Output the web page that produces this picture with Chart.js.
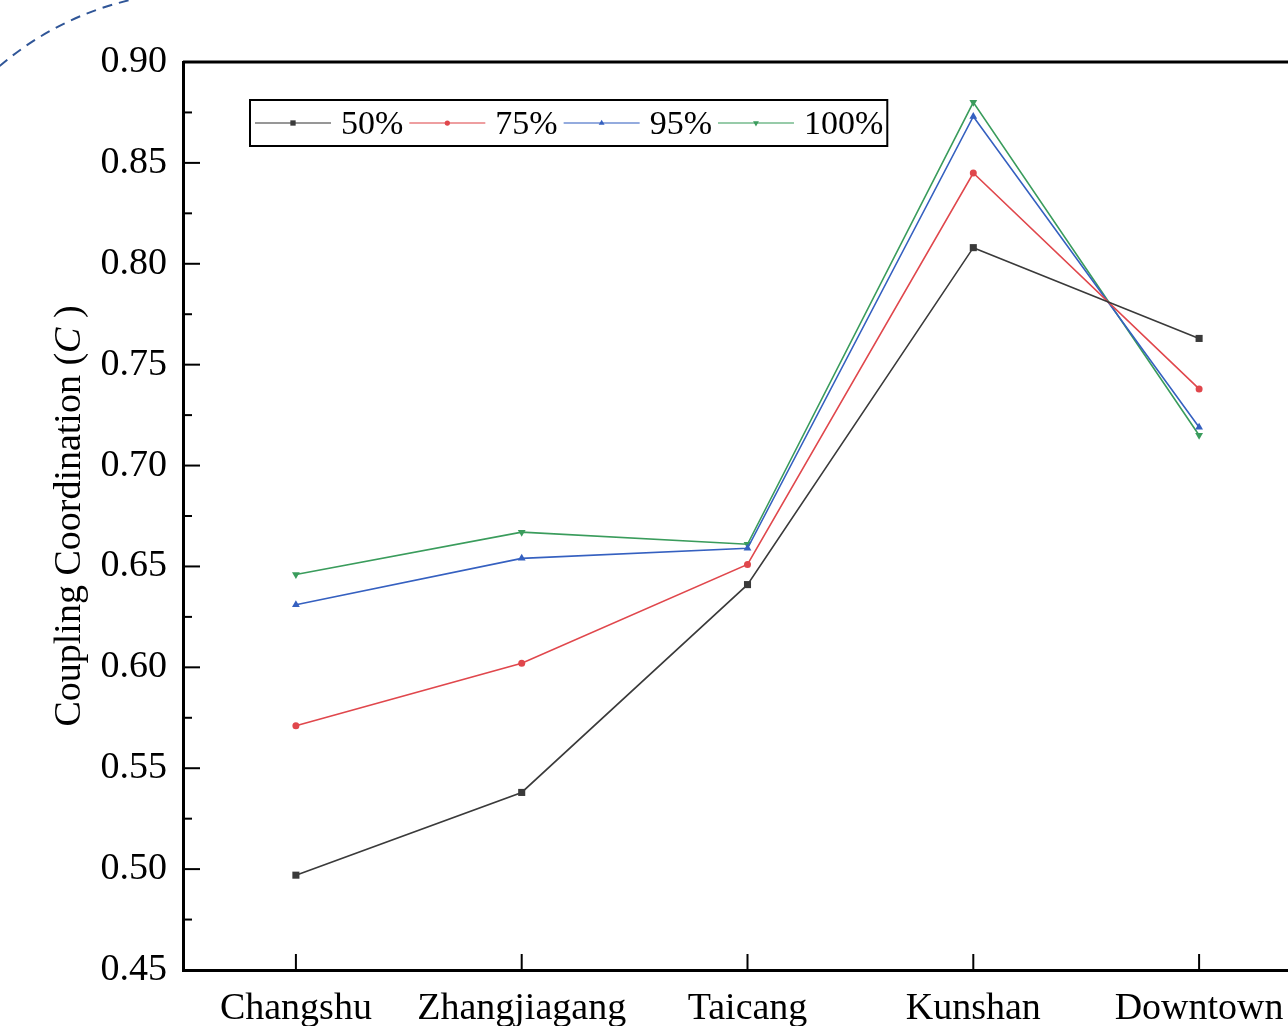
<!DOCTYPE html>
<html>
<head>
<meta charset="utf-8">
<script src="https://cdn.jsdelivr.net/npm/chart.js@4/dist/chart.umd.min.js"></script>
<style>
  html, body { margin: 0; padding: 0; background: #fff; overflow: hidden; }
  #wrap { width: 1320px; height: 1026px; }
</style>
</head>
<body>
<div id="wrap"><canvas id="cc" width="1320" height="1026"></canvas></div>
<script>
// categories and series
const cities = ['Changshu', 'Zhangjiagang', 'Taicang', 'Kunshan', 'Downtown'];
const seriesNames = ['50%', '75%', '95%', '100%'];
const c50  = [0.497, 0.538, 0.641, 0.808, 0.763];
const c75  = [0.571, 0.602, 0.651, 0.845, 0.738];
const c95  = [0.631, 0.654, 0.659, 0.873, 0.719];
const c100 = [0.646, 0.667, 0.661, 0.880, 0.715];
const yMin = 0.45, yMax = 0.90, yStep = 0.05;

const colors = ['#3a3a3a', '#e0474c', '#3560c0', '#3a9c5c'];
const markers = [
    { style: 'rect', radius: 5, rotation: 0 },
    { style: 'circle', radius: 3.5, rotation: 0 },
    { style: 'triangle', radius: 4.5, rotation: 0 },
    { style: 'triangle', radius: 4.5, rotation: 180 }
];
const FONT = '"Liberation Serif", "Times New Roman", serif';

const allSeries = [c50, c75, c95, c100];
const datasets = allSeries.map((vals, i) => ({
    label: seriesNames[i],
    data: vals,
    borderColor: colors[i],
    backgroundColor: colors[i],
    borderWidth: 1.6,
    pointStyle: markers[i].style,
    pointRadius: markers[i].radius,
    pointRotation: markers[i].rotation,
    pointBorderWidth: 0,
    tension: 0
}));

// frame, inward ticks, y title, legend box and the dashed arc
const extras = {
    id: 'extras',
    afterDraw(chart) {
        const { ctx, chartArea: a, scales: { x, y } } = chart;
        ctx.save();
        ctx.strokeStyle = '#000';
        ctx.lineWidth = 3;
        ctx.beginPath();
        ctx.moveTo(a.left, a.top);
        ctx.lineTo(a.right, a.top);
        ctx.lineTo(a.right, a.bottom);
        ctx.stroke();

        ctx.lineWidth = 2;
        const n = Math.round((yMax - yMin) / (yStep / 2));
        for (let k = 1; k < n; k++) {
            const py = y.getPixelForValue(yMin + k * yStep / 2);
            const len = k % 2 === 0 ? 17 : 9;
            ctx.beginPath();
            ctx.moveTo(a.left, py);
            ctx.lineTo(a.left + len, py);
            ctx.stroke();
        }
        cities.forEach((c, i) => {
            const px = x.getPixelForValue(i);
            ctx.beginPath();
            ctx.moveTo(px, a.bottom);
            ctx.lineTo(px, a.bottom - 16);
            ctx.stroke();
        });

        // y axis title with italic C
        const parts = [
            { t: 'Coupling Coordination (', f: '38px ' + FONT },
            { t: 'C', f: 'italic 38px ' + FONT },
            { t: ' )', f: '38px ' + FONT }
        ];
        let total = 0;
        parts.forEach(p => { ctx.font = p.f; p.w = ctx.measureText(p.t).width; total += p.w; });
        ctx.translate(70, (a.top + a.bottom) / 2);
        ctx.rotate(-Math.PI / 2);
        ctx.fillStyle = '#000';
        ctx.textBaseline = 'middle';
        ctx.textAlign = 'left';
        let tx = -total / 2;
        parts.forEach(p => { ctx.font = p.f; ctx.fillText(p.t, tx, 0); tx += p.w; });
        ctx.setTransform(1, 0, 0, 1, 0, 0);

        // legend
        ctx.font = '34px ' + FONT;
        ctx.textBaseline = 'middle';
        const bx = a.left + 67, by = a.top + 38, bh = 46;
        let cx = bx + 5;
        const cy = by + bh / 2;
        chart.data.datasets.forEach((ds, i) => {
            ctx.strokeStyle = ds.borderColor;
            ctx.globalAlpha = 0.7;
            ctx.lineWidth = 1.6;
            ctx.beginPath();
            ctx.moveTo(cx, cy);
            ctx.lineTo(cx + 76, cy);
            ctx.stroke();
            ctx.globalAlpha = 1;
            ctx.fillStyle = ds.borderColor;
            Chart.helpers.drawPoint(ctx, {
                pointStyle: ds.pointStyle, radius: ds.pointRadius * 0.75,
                rotation: ds.pointRotation, borderWidth: 0
            }, cx + 38, cy);
            ctx.fillStyle = '#000';
            ctx.fillText(ds.label, cx + 86, cy + 2);
            cx += 86 + ctx.measureText(ds.label).width + 6;
        });
        ctx.strokeStyle = '#000';
        ctx.lineWidth = 2;
        ctx.strokeRect(bx, by, cx - 2 - bx, bh);

        // dashed decoration in the corner
        ctx.strokeStyle = '#2f5597';
        ctx.lineWidth = 2;
        ctx.setLineDash([10, 7]);
        ctx.beginPath();
        ctx.arc(200, 300, 308, -2.5, -1.72);
        ctx.stroke();
        ctx.restore();
    }
};

new Chart(document.getElementById('cc').getContext('2d'), {
    type: 'line',
    data: { labels: cities, datasets: datasets },
    options: {
        responsive: false,
        animation: false,
        layout: { padding: { top: 62, right: 8, left: 0, bottom: 0 } },
        plugins: { legend: { display: false }, tooltip: { enabled: false } },
        scales: {
            x: {
                offset: true,
                grid: { display: false, drawTicks: false },
                border: { color: '#000', width: 3 },
                ticks: { color: '#000', padding: 16, font: { family: FONT, size: 38 } },
                afterFit(scale) { scale.height = 56; }
            },
            y: {
                min: yMin,
                max: yMax,
                grid: { display: false, drawTicks: false },
                border: { color: '#000', width: 3 },
                ticks: {
                    stepSize: yStep,
                    color: '#000',
                    padding: 16,
                    font: { family: FONT, size: 38 },
                    callback: v => v.toFixed(2)
                },
                afterFit(scale) { scale.width = 183; }
            }
        }
    },
    plugins: [extras]
});
</script>
</body>
</html>
